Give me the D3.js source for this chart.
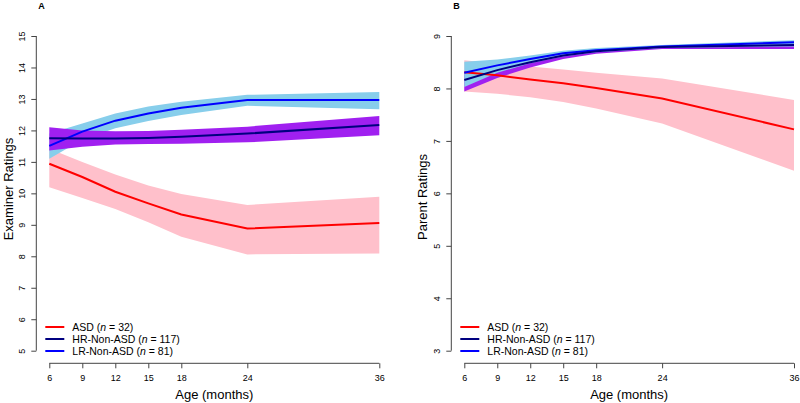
<!DOCTYPE html>
<html>
<head>
<meta charset="utf-8">
<script src="https://cdn.jsdelivr.net/npm/d3@7"></script>
<style>
  body { margin: 0; background: #fff; }
  text { font-family: "Liberation Sans", Arial, sans-serif; fill: #000; }
  .tick text { font-size: 9px; }
  .axis path, .axis line { stroke: #444; }
</style>
</head>
<body>
<svg></svg>
<script>
// ages (months)
const ages = [6, 9, 12, 15, 18, 24, 36];

// panel A - examiner ratings
const examAsd = [10.94, 10.52, 10.05, 9.68, 9.33, 8.88, 9.06];
const examAsdLo = [10.19, 9.85, 9.5, 9.08, 8.62, 8.06, 8.09];
const examAsdHi = [11.42, 11.0, 10.6, 10.25, 9.98, 9.63, 9.89];
const examHr = [11.75, 11.74, 11.74, 11.76, 11.8, 11.9, 12.17];
const examHrLo = [11.36, 11.48, 11.55, 11.57, 11.58, 11.62, 11.85];
const examHrHi = [12.1, 12.0, 11.97, 11.98, 12.02, 12.12, 12.46];
const examLr = [11.51, 11.96, 12.31, 12.54, 12.72, 12.97, 12.97];
const examLrLo = [11.1, 11.7, 12.07, 12.3, 12.49, 12.78, 12.67];
const examLrHi = [11.9, 12.22, 12.54, 12.76, 12.91, 13.13, 13.22];

// panel B - parent ratings
const parAsd = [8.31, 8.25, 8.17, 8.1, 8.01, 7.81, 7.22];
const parAsdLo = [7.94, 7.9, 7.83, 7.74, 7.62, 7.33, 6.43];
const parAsdHi = [8.54, 8.47, 8.42, 8.36, 8.3, 8.19, 7.78];
const parHr = [8.16, 8.35, 8.5, 8.63, 8.71, 8.79, 8.83];
const parHrLo = [7.94, 8.2, 8.4, 8.56, 8.66, 8.75, 8.75];
const parHrHi = [8.3, 8.44, 8.56, 8.67, 8.75, 8.82, 8.86];
const parLr = [8.3, 8.44, 8.56, 8.67, 8.73, 8.8, 8.88];
const parLrLo = [8.03, 8.3, 8.48, 8.61, 8.69, 8.77, 8.8];
const parLrHi = [8.51, 8.55, 8.63, 8.72, 8.77, 8.83, 8.92];

// legend
const groupNames = ["ASD", "HR-Non-ASD", "LR-Non-ASD"];
const groupN = [32, 117, 81];
const lineColors = ["#ff0000", "#000080", "#0000ff"];
const bandColors = ["#ffc0cb", "#a020f0", "#87ceeb"];

const svg = d3.select("svg").attr("width", 800).attr("height", 403);

function drawPanel(opts) {
  const g = svg.append("g");

  const x = d3.scaleLinear().domain([6, 36]).range([opts.x0, opts.x1]);
  const y = d3.scaleLinear().domain(opts.yDomain).range([350.7, 36]);

  // confidence bands
  opts.bandOrder.forEach((k) => {
    const lo = opts.lo[k], hi = opts.hi[k];
    const area = d3
      .area()
      .x((d, i) => x(ages[i]))
      .y0((d, i) => y(lo[i]))
      .y1((d, i) => y(hi[i]));
    g.append("path")
      .datum(ages)
      .attr("d", area)
      .attr("fill", bandColors[k]);
  });

  // mean lines
  [0, 2, 1].forEach((k) => {
    const line = d3
      .line()
      .x((d, i) => x(ages[i]))
      .y((d) => y(d));
    g.append("path")
      .datum(opts.mid[k])
      .attr("d", line)
      .attr("fill", "none")
      .attr("stroke", lineColors[k])
      .attr("stroke-width", 2);
  });

  // y axis
  const yAxis = g
    .append("g")
    .attr("class", "axis")
    .attr("transform", `translate(${opts.x0 - 13},0)`)
    .call(
      d3.axisLeft(y)
        .tickValues(d3.range(opts.yDomain[0], opts.yDomain[1] + 1))
        .tickFormat(d3.format("d"))
        .tickSize(5)
        .tickSizeOuter(0)
    );
  yAxis.select(".domain").attr("d", `M0,${y(opts.yDomain[0])}V${y(opts.yDomain[1])}`);
  yAxis
    .selectAll(".tick text")
    .attr("transform", "rotate(-90)")
    .attr("x", 0)
    .attr("dy", "0.32em")
    .attr("y", -14)
    .style("text-anchor", "middle");

  // x axis
  const xAxis = g
    .append("g")
    .attr("class", "axis")
    .attr("transform", "translate(0,363.3)")
    .call(d3.axisBottom(x).tickValues(ages).tickSize(5).tickSizeOuter(0).tickPadding(6));
  xAxis.select(".domain").attr("d", `M${x(6)},0H${x(36)}`);

  // axis titles
  g.append("text")
    .attr("x", (opts.x0 + opts.x1) / 2)
    .attr("y", 399)
    .attr("text-anchor", "middle")
    .style("font-size", "13px")
    .text("Age (months)");
  g.append("text")
    .attr("transform", `translate(${opts.yLabelX},${opts.yLabelY}) rotate(-90)`)
    .attr("text-anchor", "middle")
    .attr("dy", "0.35em")
    .style("font-size", "13px")
    .text(opts.yLabel);

  // panel letter
  g.append("text")
    .attr("x", opts.x0 - 11)
    .attr("y", 9)
    .style("font-size", "9px")
    .style("font-weight", "bold")
    .text(opts.letter);

  // legend
  const leg = g
    .selectAll("g.leg")
    .data(groupNames)
    .enter()
    .append("g")
    .attr("class", "leg")
    .attr("transform", (d, i) => `translate(${opts.x0 - 4},${327 + i * 12})`);
  leg.append("line")
    .attr("x1", 0)
    .attr("x2", 19)
    .attr("stroke", (d, i) => lineColors[i])
    .attr("stroke-width", 2);
  const lt = leg.append("text")
    .attr("x", 27)
    .attr("dy", "0.35em")
    .style("font-size", "10.5px");
  lt.append("tspan").text((d) => d + " (");
  lt.append("tspan").style("font-style", "italic").text("n");
  lt.append("tspan").text((d, i) => " = " + groupN[i] + ")");
}

drawPanel({
  x0: 49.3, x1: 379.3,
  yDomain: [5, 15],
  mid: [examAsd, examHr, examLr],
  lo: [examAsdLo, examHrLo, examLrLo],
  hi: [examAsdHi, examHrHi, examLrHi],
  bandOrder: [0, 2, 1],
  yLabel: "Examiner Ratings",
  yLabelX: 8,
  yLabelY: 189,
  letter: "A"
});

drawPanel({
  x0: 464.3, x1: 794,
  yDomain: [3, 9],
  mid: [parAsd, parHr, parLr],
  lo: [parAsdLo, parHrLo, parLrLo],
  hi: [parAsdHi, parHrHi, parLrHi],
  bandOrder: [0, 1, 2],
  yLabel: "Parent Ratings",
  yLabelX: 422,
  yLabelY: 197,
  letter: "B"
});
</script>
</body>
</html>
